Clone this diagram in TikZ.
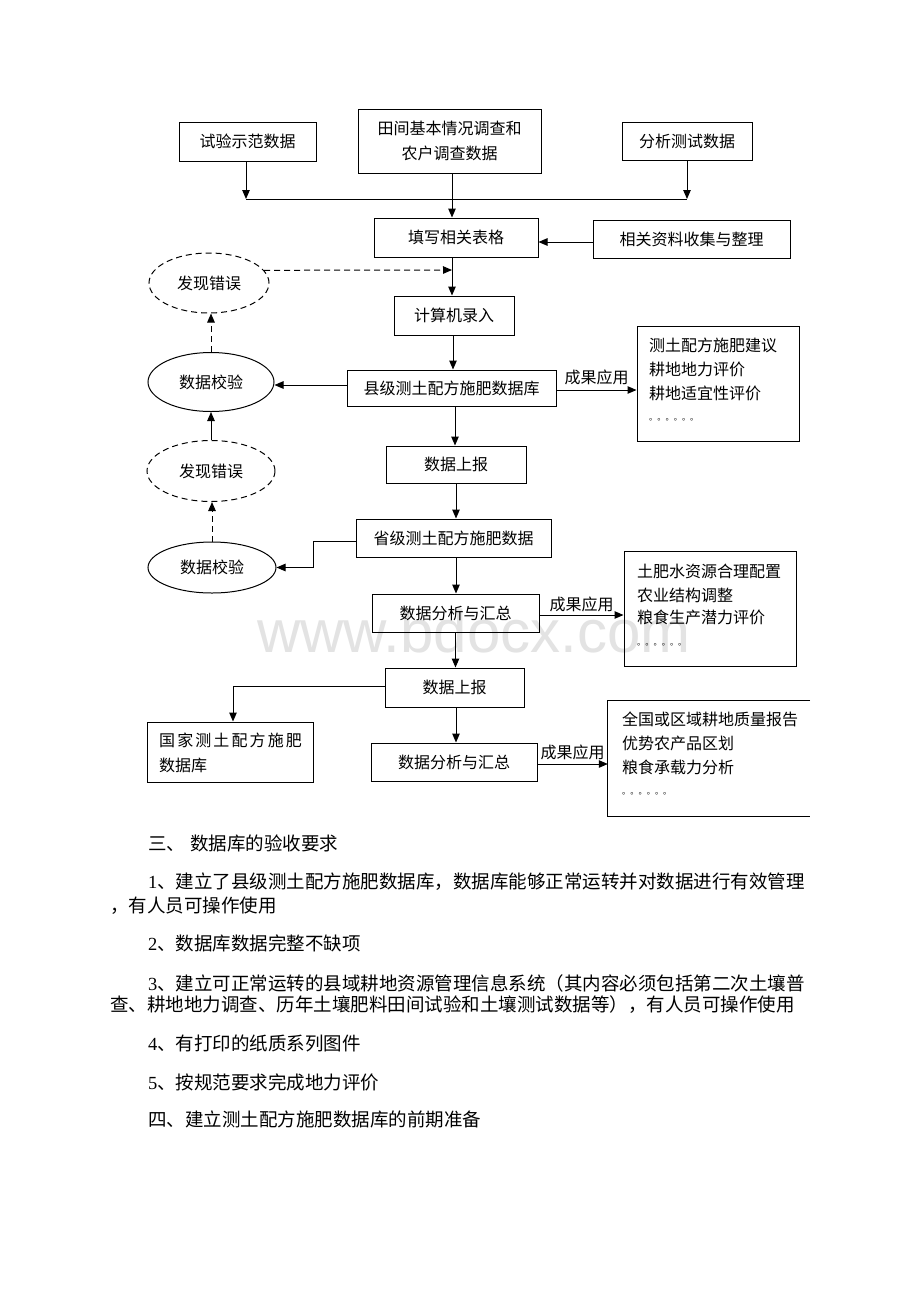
\documentclass[tikz,border=0pt]{standalone}
\usepackage{fontspec}
\setmainfont{Liberation Serif}
\newfontfamily\cjk{Noto Sans CJK SC}
\newfontfamily\lat{Liberation Serif}
\newfontfamily\wmfont{Liberation Sans}
\usetikzlibrary{arrows.meta,calc,shapes.geometric}
\begin{document}
\begin{tikzpicture}[x=1pt,y=-1pt,
  every node/.style={inner sep=0pt, font=\cjk\fontsize{16}{20}\selectfont},
  box/.style={draw, line width=1pt, rectangle},
  oval/.style={draw, line width=1pt, ellipse},
  dsh/.style={dash pattern=on 6pt off 4pt},
  arr/.style={line width=1pt, -{Triangle[length=9pt,width=7.5pt]}},
  ln/.style={line width=1pt},
  txt/.style={anchor=west},
  body/.style={anchor=west, font=\cjk\fontsize{18.5}{22}\selectfont},
  dots/.style={anchor=west, font=\cjk\fontsize{8.2}{9}\selectfont},
]
\useasboundingbox (0,0) rectangle (920,1302);
\fill[white] (0,0) rectangle (920,1302);

% watermark
\node[font=\wmfont\fontsize{60}{60}\selectfont, text=black!11, anchor=base] (wm) at (474,652) {www.bdocx.com};

% top row
\node[box, minimum width=137pt, minimum height=39pt] (A) at (247.5,141.5) {试验示范数据};
\node[box, minimum width=183pt, minimum height=64pt, align=center, font=\cjk\fontsize{16}{25}\selectfont] (B) at (449.5,141) {田间基本情况调查和\\农户调查数据};
\node[box, minimum width=130pt, minimum height=38pt] (C) at (687,141) {分析测试数据};

\node[box, minimum width=164pt, minimum height=39pt] (D) at (456,237.5) {填写相关表格};
\node[box, minimum width=197pt, minimum height=38pt] (E) at (691.5,239) {相关资料收集与整理};
\node[oval, dsh, minimum width=120pt, minimum height=60pt] (F) at (209,283) {发现错误};
\node[box, minimum width=120pt, minimum height=39pt] (G) at (454,315.5) {计算机录入};
\node[box, minimum width=209pt, minimum height=36pt] (H) at (451.5,388) {县级测土配方施肥数据库};
\node[oval, minimum width=126pt, minimum height=59pt] (I) at (211,382) {数据校验};

\node[box, minimum width=162pt, minimum height=115pt] (J) at (718,383.5) {};
\node[txt] (J1) at (649,345) {测土配方施肥建议};
\node[txt] (J2) at (649,369) {耕地地力评价};
\node[txt] (J3) at (649,393) {耕地适宜性评价};
\node[dots] (J4) at (649,420) {。。。。。。};

\node[box, minimum width=140pt, minimum height=37pt] (K) at (456,464.5) {数据上报};
\node[oval, dsh, minimum width=128pt, minimum height=61pt] (L) at (211,471) {发现错误};
\node[box, minimum width=195pt, minimum height=38pt] (M) at (453.5,538) {省级测土配方施肥数据};
\node[oval, minimum width=128pt, minimum height=51pt] (N) at (212,567.5) {数据校验};
\node[box, minimum width=167pt, minimum height=38pt] (O) at (455.5,613) {数据分析与汇总};

\node[box, minimum width=172pt, minimum height=115pt] (P) at (710,608.5) {};
\node[txt] (P1) at (637,571) {土肥水资源合理配置};
\node[txt] (P2) at (637,595) {农业结构调整};
\node[txt] (P3) at (637,617) {粮食生产潜力评价};
\node[dots] (P4) at (637,645) {。。。。。。};

\node[box, minimum width=139pt, minimum height=39pt] (Q) at (454.5,687.5) {数据上报};
\node[box, minimum width=166pt, minimum height=60pt] (R) at (230,752) {};
\node[txt] (R1) at (159,740) {国\hspace{2.1pt}家\hspace{2.1pt}测\hspace{2.1pt}土\hspace{2.1pt}配\hspace{2.1pt}方\hspace{2.1pt}施\hspace{2.1pt}肥};
\node[txt] (R2) at (159,765) {数据库};
\node[box, minimum width=166pt, minimum height=38pt] (S) at (454,762) {数据分析与汇总};

\node[minimum width=202pt, minimum height=115pt] (T) at (709,758.5) {};
\draw[ln] (T.north east) -- (T.north west) -- (T.south west) -- (T.south east);
\node[txt] (T1) at (622,719) {全国或区域耕地质量报告};
\node[txt] (T2) at (622,743) {优势农产品区划};
\node[txt] (T3) at (622,767) {粮食承载力分析};
\node[dots] (T4) at (622,794) {。。。。。。};

% connectors
\coordinate (jA) at (246,199);
\coordinate (jC) at (687,199);
\coordinate (dj) at (452,270);
\draw[arr] (A.south -| jA) -- (jA);
\draw[arr] (C.south) -- (jC);
\draw[ln] (jA) -- (jC);
\draw[arr] ([xshift=2.5pt]B.south) -- ([xshift=2.5pt]B.south |- D.north);
\draw[arr] ([yshift=-3pt]E.west) -- ([yshift=-3pt]E.west -| D.east);
\draw[arr] ([xshift=-4pt]D.south) -- ([xshift=-4pt]D.south |- G.north);
\draw[arr, dsh] (F.13) -- (dj);
\draw[arr] ([xshift=-1pt]G.south) -- ([xshift=-1pt]G.south |- H.north);
\draw[arr] ([yshift=3pt]H.west) -- ([yshift=3pt]H.west -| I.east);
\draw[arr, dsh] (I.north) -- (I.north |- F.south);
\draw[arr] ([yshift=-2pt]H.east) -- ([yshift=-2pt]H.east -| J.west) node[midway, above=5pt] (lab1) {成果应用};
\draw[arr] ([xshift=3.5pt]H.south) -- ([xshift=3.5pt]H.south |- K.north);
\draw[arr] (L.north) -- (L.north |- I.south);
\draw[arr] (K.south) -- (K.south |- M.north);
\draw[arr] ([yshift=-3pt]M.west) -- ++(-42,0) |- (N.east);
\draw[arr, dsh] (N.north) -- (N.north |- L.south);
\draw[arr] ([xshift=2.5pt]M.south) -- ([xshift=2.5pt]M.south |- O.north);
\draw[arr] ([yshift=-2pt]O.east) -- ([yshift=-2pt]O.east -| P.west) node[midway, above=3pt] (lab2) {成果应用};
\draw[arr] (O.south) -- (O.south |- Q.north);
\draw[arr] ([yshift=1.5pt]Q.west) -| ([xshift=3pt]R.north);
\draw[arr] ([xshift=1.5pt]Q.south) -- ([xshift=1.5pt]Q.south |- S.north);
\draw[arr] ([yshift=-2pt]S.east) -- ([yshift=-2pt]S.east -| T.west) node[midway, above=4pt] (lab3) {成果应用};

% body text
\node[body] (h3) at (148,843) {三、\hspace{5pt}数据库的验收要求};
\node[body] (p1a) at (148,882) {{\lat 1}、建立了县级测土配方施肥数据库，数据库能够正常运转并对数据进行有效管理};
\node[body] (p1b) at (110,906) {，有人员可操作使用};
\node[body] (p2) at (148,943) {{\lat 2}、数据库数据完整不缺项};
\node[body] (p3a) at (148,983) {{\lat 3}、建立可正常运转的县域耕地资源管理信息系统（其内容必须包括第二次土壤普};
\node[body] (p3b) at (110,1005) {查、耕地地力调查、历年土壤肥料田间试验和土壤测试数据等），有人员可操作使用};
\node[body] (p4) at (148,1043) {{\lat 4}、有打印的纸质系列图件};
\node[body] (p5) at (148,1082) {{\lat 5}、按规范要求完成地力评价};
\node[body] (h4) at (148,1119) {四、建立测土配方施肥数据库的前期准备};
\end{tikzpicture}
\end{document}
